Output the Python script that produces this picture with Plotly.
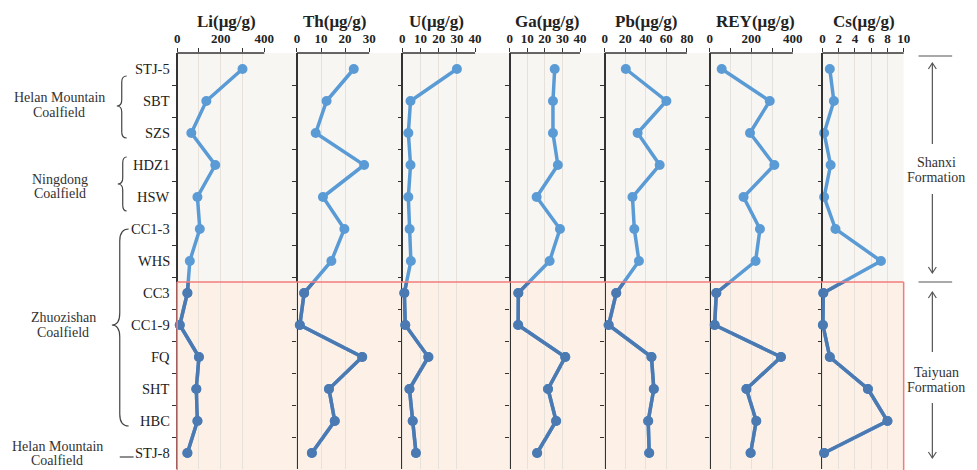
import plotly.graph_objects as go

# ---------------- data ----------------
samples = ["STJ-5", "SBT", "SZS", "HDZ1", "HSW", "CC1-3", "WHS",
           "CC3", "CC1-9", "FQ", "SHT", "HBC", "STJ-8"]
li = [300, 134, 65, 175, 93, 104, 58, 47, 12, 100, 88, 93, 47]
th = [23.6, 12.3, 7.8, 27.9, 10.8, 19.7, 14.3, 3.0, 1.2, 27.1, 13.3, 15.7, 6.2]
u = [30, 4.5, 3.3, 4.5, 3.3, 4.0, 4.7, 1.1, 1.6, 14.3, 3.9, 5.7, 7.5]
ga = [25.6, 24.6, 24.6, 27.4, 15.3, 28.6, 22.7, 4.9, 4.8, 31.6, 21.8, 26.4, 15.6]
pb = [20.5, 60, 32, 53.5, 27, 28.8, 33.3, 11.2, 3.8, 45.5, 47.8, 42.3, 43.3]
rey = [58, 289, 194, 311, 163, 242, 221, 32, 24, 343, 177, 224, 197]
cs = [0.9, 1.4, 0.2, 1.0, 0.2, 1.6, 7.2, 0.1, 0.05, 0.9, 5.6, 8.0, 0.2]

titles = ["Li(μg/g)", "Th(μg/g)", "U(μg/g)", "Ga(μg/g)", "Pb(μg/g)", "REY(μg/g)", "Cs(μg/g)"]
series = [li, th, u, ga, pb, rey, cs]
axis_max = [400, 30, 40, 40, 80, 400, 10]
tick_step = [100, 10, 10, 10, 20, 100, 2]
label_step = [200, 10, 10, 10, 20, 200, 2]

groups = [("Helan Mountain", "Coalfield"), ("Ningdong", "Coalfield"),
          ("Zhuozishan", "Coalfield"), ("Helan Mountain", "Coalfield")]
formations = [("Shanxi", "Formation"), ("Taiyuan", "Formation")]

# ---------------- layout geometry (pixels) ----------------
W, H = 977, 470
T, B = 53, 1
PH = H - T - B
SERIF = "Liberation Serif"

def px(x):
    return x / W

def py(y):
    return (H - B - y) / PH

panel_px = [(179, 267), (300, 373), (406.5, 480), (515, 586),
            (611, 694), (717, 801), (831, 913)]
title_px = [229, 338, 441, 553, 653, 763, 873]
PAD = 7
BOUND_PX = 282
n = len(samples)
rows = list(range(n))
b_val = (BOUND_PX - T) / 32.0 - 0.5
f_bound = py(BOUND_PX)

LIGHT = "#5b9bd5"
DARK = "#4b7ab3"
GRID = "#e7e1db"
AX = "#333333"

fig = go.Figure()
layout = {}
shapes = []
annotations = []

for k in range(1, 8):
    i = k - 1
    x0, x1 = panel_px[i]
    mx = axis_max[i]
    xname = "x" if k == 1 else f"x{k}"
    yname = "y" if k == 1 else f"y{k}"
    ylow = f"y{k + 7}"
    vals = series[i]

    fig.add_trace(go.Scatter(x=vals, y=rows, xaxis=xname, yaxis=yname,
                             mode="lines+markers",
                             line=dict(color=LIGHT, width=3.5),
                             marker=dict(size=10, color=LIGHT),
                             hoverinfo="skip", showlegend=False))
    fig.add_trace(go.Scatter(x=vals, y=rows, xaxis=xname, yaxis=ylow,
                             mode="lines+markers",
                             line=dict(color=DARK, width=3.5),
                             marker=dict(size=10, color=DARK),
                             hoverinfo="skip", showlegend=False))

    tv = list(range(0, mx + 1, tick_step[i]))
    tt = [str(v) if v % label_step[i] == 0 else "" for v in tv]
    lo = -PAD * mx / (x1 - x0)
    layout["xaxis" if k == 1 else f"xaxis{k}"] = dict(
        domain=[px(x0 - PAD), px(x1)], range=[lo, mx], anchor=yname, side="top",
        tickvals=tv, ticktext=tt, ticks="outside", ticklen=4, tickwidth=1.2,
        tickcolor=AX, showline=False, showgrid=True, gridcolor=GRID, gridwidth=1.3,
        zeroline=False, tickfont=dict(family=SERIF, size=13, color="#222", weight="bold"),
        fixedrange=True)
    layout["yaxis" if k == 1 else f"yaxis{k}"] = dict(
        domain=[0, 1], anchor="free", position=px(x0), range=[n - 0.5, -0.5],
        showline=True, linecolor=AX, linewidth=1.5, ticks="outside", ticklen=4,
        tickwidth=1.2, tickcolor=AX, tickvals=[r + 0.5 for r in range(n - 1)],
        showticklabels=False, showgrid=False, zeroline=False, fixedrange=True)
    layout[f"yaxis{k + 7}"] = dict(
        domain=[0, f_bound], anchor=xname, range=[n - 0.5, b_val],
        visible=False, fixedrange=True)

    # top axis line
    shapes.append(dict(type="line", xref="paper", yref="paper", x0=px(x0), x1=px(x1),
                       y0=1, y1=1, line=dict(color=AX, width=1.5), layer="above"))
    annotations.append(dict(xref="paper", yref="paper", x=px(title_px[i]), y=1,
                            yshift=T - 21, text=f"<b>{titles[i]}</b>", showarrow=False,
                            xanchor="center", yanchor="middle",
                            font=dict(family=SERIF, size=17, color="#222")))

# background bands
shapes.append(dict(type="rect", xref="paper", yref="paper", x0=px(179), x1=px(913),
                   y0=py(BOUND_PX), y1=1, fillcolor="#f7f6f2", line=dict(width=0),
                   layer="below"))
shapes.append(dict(type="rect", xref="paper", yref="paper", x0=px(179), x1=px(913),
                   y0=py(H + 2), y1=py(BOUND_PX), fillcolor="#fdf0e6", line=dict(width=0),
                   layer="below"))
RED = "#f37b7b"
for (a, bb, c, d) in [(179, BOUND_PX, 913, BOUND_PX), (179, BOUND_PX, 179, H + 2),
                      (913, BOUND_PX, 913, H + 2)]:
    shapes.append(dict(type="line", xref="paper", yref="paper", x0=px(a), y0=py(bb),
                       x1=px(c), y1=py(d), line=dict(color=RED, width=1.5), layer="above"))

# sample labels
for r, s in enumerate(samples):
    annotations.append(dict(xref="paper", yref="y", x=px(174), y=r, text=s,
                            showarrow=False, xanchor="right", yanchor="middle",
                            font=dict(family=SERIF, size=14.5, color="#222")))

# group labels
group_px = [(60, 98, 112), (61, 179, 193), (64, 317, 332), (58, 446, 460)]
for (g1, g2), (gx, gy1, gy2) in zip(groups, group_px):
    for txt, yy in ((g1, gy1), (g2, gy2)):
        annotations.append(dict(xref="paper", yref="paper", x=px(gx), y=py(yy), text=txt,
                                showarrow=False, xanchor="center", yanchor="middle",
                                font=dict(family=SERIF, size=14, color="#333")))

def P(x, y):
    return f"{px(x):.5f},{py(y):.5f}"

def brace(sp, tip, end, ytop, ymid, ybot, r):
    return (f"M{P(end, ytop)} Q{P(sp, ytop)} {P(sp, ytop + r)} L{P(sp, ymid - r)} "
            f"Q{P(sp, ymid)} {P(tip, ymid)} Q{P(sp, ymid)} {P(sp, ymid + r)} "
            f"L{P(sp, ybot - r)} Q{P(sp, ybot)} {P(end, ybot)}")

for args in [(123, 118, 128, 76, 106, 138, 6), (124, 119, 128, 157, 184, 211, 6),
             (121, 113, 130, 229, 325, 426, 12)]:
    shapes.append(dict(type="path", xref="paper", yref="paper", path=brace(*args),
                       line=dict(color="#444", width=1.2)))
shapes.append(dict(type="line", xref="paper", yref="paper", x0=px(121), x1=px(135),
                   y0=py(457), y1=py(457), line=dict(color="#444", width=1.2)))

# formation marks on the right
AX2 = 942
for yy in (56, 282):
    shapes.append(dict(type="line", xref="paper", yref="paper", x0=px(928), x1=px(962),
                       y0=py(yy), y1=py(yy), line=dict(color="#555", width=1.2)))

def arrow(x, y_head, y_tail):
    shapes.append(dict(type="line", xref="paper", yref="paper", x0=px(x), x1=px(x),
                       y0=py(y_head), y1=py(y_tail), line=dict(color="#555", width=1.2)))
    d = 6 if y_tail > y_head else -6
    shapes.append(dict(type="path", xref="paper", yref="paper",
                       path=f"M{P(x - 4, y_head + d)} L{P(x, y_head)} L{P(x + 4, y_head + d)}",
                       line=dict(color="#555", width=1.2)))

arrow(AX2, 63, 144)
arrow(AX2, 273, 194)
arrow(AX2, 292, 352)
arrow(AX2, 458, 403)

for (f1, f2), (fy1, fy2) in zip(formations, [(163, 177), (372, 387)]):
    for txt, yy in ((f1, fy1), (f2, fy2)):
        annotations.append(dict(xref="paper", yref="paper", x=px(946), y=py(yy), text=txt,
                                showarrow=False, xanchor="center", yanchor="middle",
                                font=dict(family=SERIF, size=14, color="#333")))

fig.update_layout(width=W, height=H, margin=dict(l=0, r=0, t=T, b=B),
                  paper_bgcolor="white", plot_bgcolor="rgba(0,0,0,0)",
                  showlegend=False, shapes=shapes, annotations=annotations,
                  font=dict(family=SERIF), **layout)

fig.write_html("out.html", config={"displayModeBar": False, "responsive": False},
               post_script="document.body.style.margin='0';document.body.style.padding='0';"
                           "document.documentElement.style.overflow='hidden';")
